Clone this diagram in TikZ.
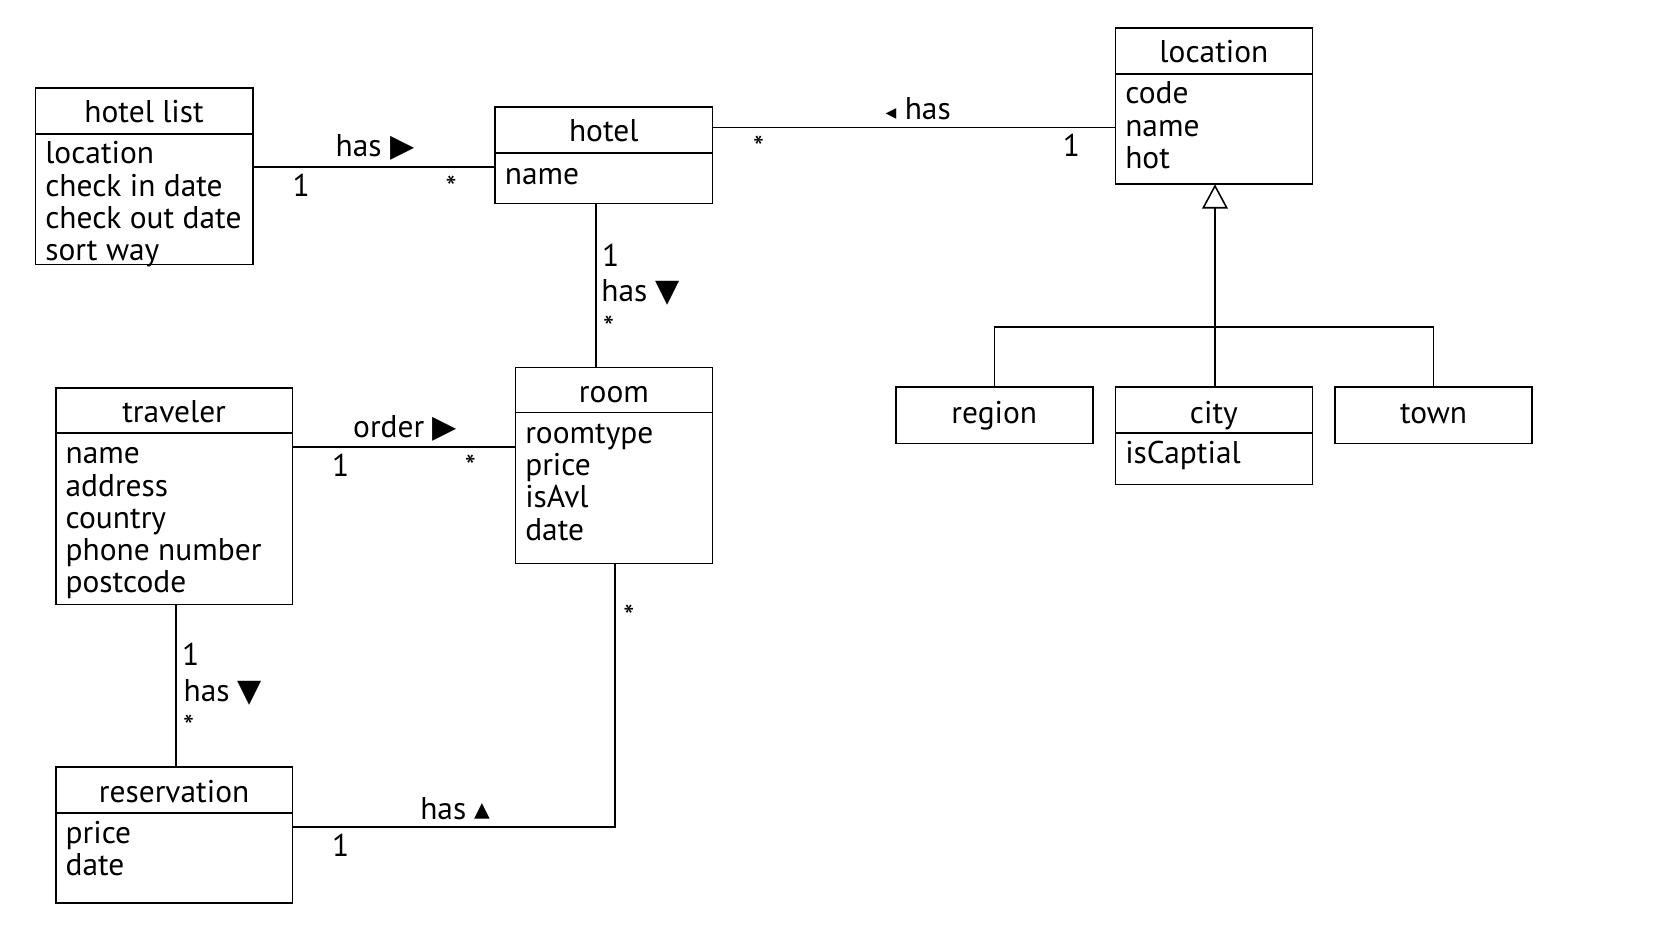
\documentclass[tikz,border=0pt]{standalone}
\usepackage{fontspec}
\setmainfont{PT Sans}
\newfontfamily\symf{DejaVu Sans}
\usetikzlibrary{fit,arrows.meta}
\newcommand\fs{\fontsize{22}{22.5}\selectfont}
\newcommand\tri[1]{{\symf #1}}
\tikzset{
  x=0.75pt, y=-0.75pt,
  box/.style={draw, line width=1.1pt, inner sep=0pt, outer sep=0pt},
  ttl/.style={font=\fs, inner sep=0pt, anchor=base},
  att/.style={font=\fs, inner sep=0pt, anchor=base west},
  lbl/.style={font=\fs, inner sep=0pt},
  conn/.style={line width=1.1pt},
}
\begin{document}
\begin{tikzpicture}
\path[use as bounding box] (0,0) rectangle (1568,875.5);

% hotel list
\node[box, fit={(33,82) (236,247)}] (hotellist) {};
\draw[conn] (hotellist.west |- 0,125) -- (hotellist.east |- 0,125);
\node[ttl] (hotellistT) at (134.5,114) {hotel list};
\node[att] (hotellistA) at (42,153) {\vtop{\hbox{location}\hbox{check in date}\hbox{check out date}\hbox{sort way}}};

% hotel
\node[box, fit={(462,100) (665,190)}] (hotel) {};
\draw[conn] (hotel.west |- 0,143) -- (hotel.east |- 0,143);
\node[ttl] (hotelT) at (563.5,132) {hotel};
\node[att] (hotelA) at (471,172) {name};

% location
\node[box, fit={(1041,26) (1225,172)}] (location) {};
\draw[conn] (location.west |- 0,69) -- (location.east |- 0,69);
\node[ttl] (locationT) at (1133,58) {location};
\node[att] (locationA) at (1050,97) {\vtop{\hbox{code}\hbox{name}\hbox{hot}}};

% region, city, town
\node[box, fit={(836,361) (1020,414)}] (region) {};
\node[ttl] (regionT) at (928,395) {region};
\node[box, fit={(1041,361) (1225,452)}] (city) {};
\draw[conn] (city.west |- 0,404) -- (city.east |- 0,404);
\node[ttl] (cityT) at (1133,395) {city};
\node[att] (cityA) at (1050,433) {isCaptial};
\node[box, fit={(1246,361) (1430,414)}] (town) {};
\node[ttl] (townT) at (1338,395) {town};

% traveler
\node[box, fit={(52,362) (273,564)}] (traveler) {};
\draw[conn] (traveler.west |- 0,404) -- (traveler.east |- 0,404);
\node[ttl] (travelerT) at (162.5,394) {traveler};
\node[att] (travelerA) at (61,433) {\vtop{\hbox{name}\hbox{address}\hbox{country}\hbox{phone number}\hbox{postcode}}};

% room
\node[box, fit={(481,343) (665,526)}] (room) {};
\draw[conn] (room.west |- 0,385) -- (room.east |- 0,385);
\node[ttl] (roomT) at (573,376) {room};
\node[att] (roomA) at (490,414) {\vtop{\hbox{roomtype}\hbox{price}\hbox{isAvl}\hbox{date}}};

% reservation
\node[box, fit={(52,716) (273,843)}] (reservation) {};
\draw[conn] (reservation.west |- 0,759) -- (reservation.east |- 0,759);
\node[ttl] (reservationT) at (162.5,749) {reservation};
\node[att] (reservationA) at (61,787) {\vtop{\hbox{price}\hbox{date}}};

% associations
\draw[conn] (hotellist.east |- 0,156) -- (hotel.west |- 0,156);
\node[lbl] (l1) at (350,138) {has \tri{▶}};
\node[lbl] (m1a) at (281,173) {1};
\node[lbl] (m1b) at (421,175) {*};

\draw[conn] (hotel.east |- 0,119) -- (location.west |- 0,119);
\node[lbl] (l2) at (857,101) {{\tri{\fontsize{15}{15}\selectfont◂}} has};
\node[lbl] (m2a) at (708,137) {*};
\node[lbl] (m2b) at (1000,136) {1};

\draw[conn] (hotel.south -| 556,0) -- (room.north -| 556,0);
\node[lbl] (m3a) at (570,238) {1};
\node[lbl] (l3) at (598,273) {has \tri{▼}};
\node[lbl] (m3b) at (568,305) {*};

\draw[conn] (traveler.east |- 0,417) -- (room.west |- 0,417);
\node[lbl] (l4) at (378,400) {order \tri{▶}};
\node[lbl] (m4a) at (318,434) {1};
\node[lbl] (m4b) at (439,435) {*};

\draw[conn] (traveler.south -| 164,0) -- (reservation.north -| 164,0);
\node[lbl] (m5a) at (178,611) {1};
\node[lbl] (l5) at (208,646) {has \tri{▼}};
\node[lbl] (m5b) at (176,678) {*};

\draw[conn] (reservation.east |- 0,772) -| (room.south -| 574,0);
\node[lbl] (l6) at (425,755) {has \tri{▴}};
\node[lbl] (m6a) at (318,789) {1};
\node[lbl] (m6b) at (587,575) {*};

% generalization
\coordinate (gj) at (1134,305);
\draw[line width=1.9pt, -{Triangle[open, line width=1.1pt, length=17pt, width=18pt]}] (gj) -- (location.south -| gj);
\draw[conn] (region.north) |- (gj) -| (town.north);
\draw[conn] (city.north -| gj) -- (gj);
\end{tikzpicture}
\end{document}
